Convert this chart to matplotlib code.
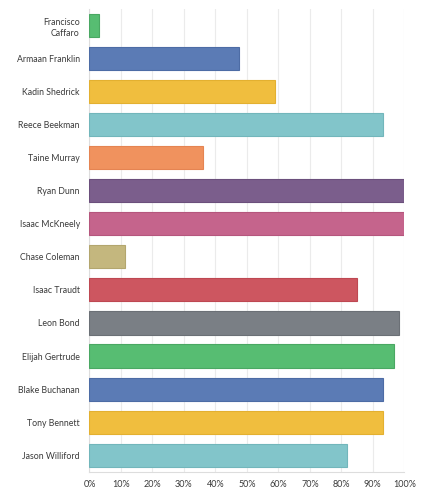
import matplotlib
matplotlib.use("Agg")
import matplotlib.pyplot as plt
from matplotlib.ticker import FuncFormatter, MultipleLocator

plt.rcParams['font.family'] = ['Lato', 'DejaVu Sans']

names = ["Francisco\nCaffaro", "Armaan Franklin", "Kadin Shedrick", "Reece Beekman",
         "Taine Murray", "Ryan Dunn", "Isaac McKneely", "Chase Coleman",
         "Isaac Traudt", "Leon Bond", "Elijah Gertrude", "Blake Buchanan",
         "Tony Bennett", "Jason Williford"]
values = [3.0, 47.4, 59.0, 93.2, 35.9, 100.0, 100.0, 11.4, 85.1, 98.2, 96.7, 93.2, 93.2, 81.8]
colors = ["#57bd72", "#5b7bb5", "#f0be3e", "#82c5ca", "#f0925e", "#7b5e8c", "#c5648c",
          "#c4b77e", "#cd5660", "#7a7f85", "#57bd72", "#5b7bb5", "#f0be3e", "#82c5ca"]
edges = ["#4aa863", "#4d6ca5", "#e3b030", "#72b6bb", "#e58452", "#6b4f7c", "#b5567d",
         "#b3a66e", "#be4852", "#6b7076", "#4aa863", "#4d6ca5", "#e3b030", "#72b6bb"]

fig = plt.figure(figsize=(4.45, 5.0), dpi=100)
ax = fig.add_axes([0.2011, 0.0566, 0.7074, 0.9254])

y = list(range(len(names)))
ax.barh(y, values, height=0.7, color=colors, edgecolor=edges, linewidth=0.8, zorder=3)
ax.set_ylim(len(names) - 0.5, -0.5)
ax.set_xlim(0, 100)
ax.xaxis.set_major_locator(MultipleLocator(10))
ax.xaxis.set_major_formatter(FuncFormatter(lambda v, p: f"{int(round(v))}%"))
ax.set_yticks(y)
ax.set_yticklabels(names, fontsize=6.3, color="#3a3a3a", linespacing=1.4)
for lab in ax.get_yticklabels():
    lab.set_horizontalalignment("right")
ax.tick_params(axis='x', labelsize=6.5, colors="#3a3a3a", length=0, pad=6)
ax.tick_params(axis='y', length=0, pad=7)
ax.grid(axis='x', color="#ebebeb", linewidth=0.8, zorder=0)
for s in ["top", "right"]:
    ax.spines[s].set_visible(False)
ax.spines["left"].set_color("#dddddd")
ax.spines["bottom"].set_color("#dddddd")
ax.spines["left"].set_linewidth(0.8)
ax.spines["bottom"].set_linewidth(0.8)

fig.savefig("out.png", dpi=100, facecolor="white")
